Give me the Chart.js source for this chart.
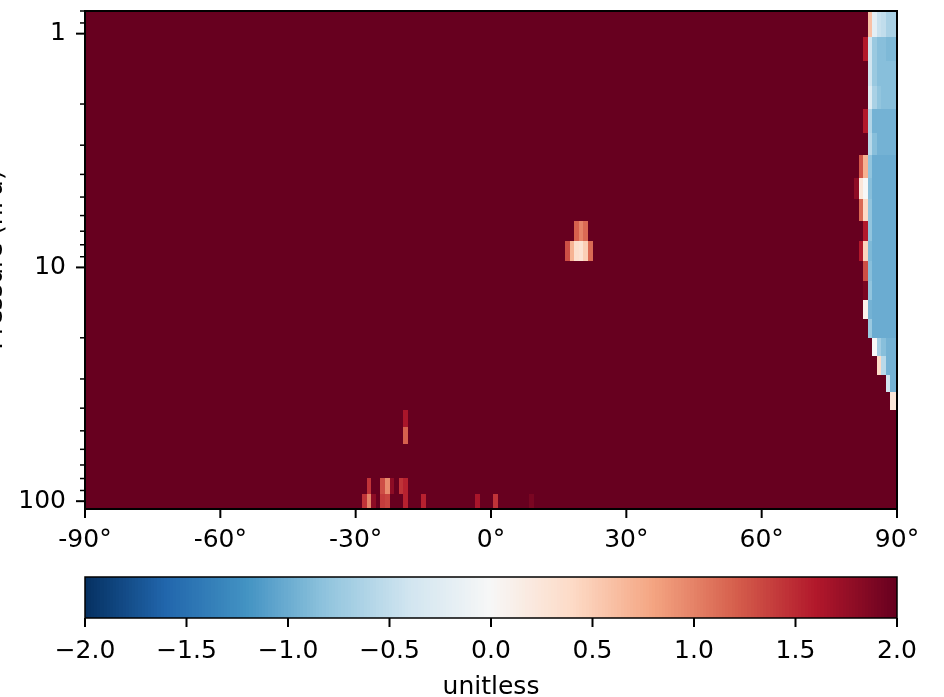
<!DOCTYPE html>
<html>
<head>
<meta charset="utf-8">
<script src="https://cdn.jsdelivr.net/npm/chart.js@4.4.0/dist/chart.umd.min.js"></script>
<style>
    body { margin: 0; background: #fff; }
    #main { position: absolute; left: 0; top: 0; width: 944px; height: 560px; }
    #cbar { position: absolute; left: 0; top: 560px; width: 944px; height: 137px; }
</style>
</head>
<body>
<div id="main"><canvas id="mainChart"></canvas></div>
<div id="cbar"><canvas id="cbarChart"></canvas></div>
<script>
// Pressure level edges (hPa), top of plot to bottom
const levelEdges = [0.80, 1.03, 1.31, 1.67, 2.10, 2.65, 3.30, 4.14, 5.09, 6.32, 7.70, 9.38, 11.4,
    13.8, 16.6, 20.0, 23.9, 28.9, 34.1, 40.8, 48.2, 57.0, 67.4, 79.7, 93.3, 108];
const latTicks = [-90, -60, -30, 0, 30, 60, 90];
const pressureTicks = [1, 10, 100];
const cbarTicks = [-2, -1.5, -1, -0.5, 0, 0.5, 1, 1.5, 2];
const latStep = 1;          // grid spacing in degrees
const fillValue = 2.0;      // most of the field sits at the top of the colour range
const cMin = -2, cMax = 2;

// Polar strip: [level index, first latitude, values eastward...]
const polarRows = [
    [0, 84, [0.6, -0.2, -0.45, -0.5, -0.65, -0.65, -0.65]],
    [1, 83, [1.6, -0.4, -0.75, -0.85, -0.85, -0.9, -0.9, -0.9]],
    [2, 84, [-0.4, -0.75, -0.85, -0.85, -0.85, -0.85, -0.85]],
    [3, 84, [-0.25, -0.65, -0.8, -0.85, -0.85, -0.85, -0.85]],
    [4, 83, [1.6, -0.6, -0.95, -0.95, -0.95, -0.95, -0.95, -0.95]],
    [5, 84, [-0.55, -0.85, -0.95, -0.95, -0.95, -0.95, -0.95]],
    [6, 82, [1.25, 0.7, -0.8, -1.0, -1.0, -1.0, -1.0, -1.0, -1.0]],
    [7, 81, [1.8, 0.25, 0.0, -0.85, -1.0, -1.0, -1.0, -1.0, -1.0, -1.0]],
    [8, 82, [1.15, 0.4, -0.8, -1.0, -1.0, -1.0, -1.0, -1.0, -1.0]],
    [9, 83, [1.6, -0.8, -1.0, -1.0, -1.0, -1.0, -1.0, -1.0]],
    [10, 82, [1.6, 0.45, -0.9, -1.0, -1.0, -1.0, -1.0, -1.0, -1.0]],
    [11, 83, [1.3, -0.85, -1.0, -1.0, -1.0, -1.0, -1.0, -1.0]],
    [12, 83, [1.9, -0.8, -1.0, -1.0, -1.0, -1.0, -1.0, -1.0]],
    [13, 83, [0.1, -0.95, -1.0, -1.0, -1.0, -1.0, -1.0, -1.0]],
    [14, 84, [-0.75, -1.0, -1.0, -1.0, -1.0, -1.0, -1.0]],
    [15, 85, [0.0, -0.7, -0.85, -0.95, -0.95, -0.95]],
    [16, 86, [0.4, -0.55, -0.95, -0.95, -0.95]],
    [17, 88, [-0.4, -0.95, -0.95]],
    [18, 89, [0.25, 0.25]]
];

// Isolated cells: [latitude, level index, value]
const midCells = [
    [19, 9, 1.2], [20, 9, 1.0], [21, 9, 1.15],
    [17, 10, 1.3], [18, 10, 0.7], [19, 10, 0.35], [20, 10, 0.3], [21, 10, 0.5], [22, 10, 1.15]
];
const lowCells = [
    [-19, 19, 1.65], [-19, 20, 1.2],
    [-27, 23, 1.45], [-24, 23, 1.3], [-23, 23, 0.95], [-22, 23, 1.8], [-20, 23, 1.45], [-19, 23, 1.55],
    [-28, 24, 1.45], [-27, 24, 1.0], [-26, 24, 1.8], [-24, 24, 1.4], [-23, 24, 1.35],
    [-19, 24, 1.55], [-15, 24, 1.55], [-3, 24, 1.65], [1, 24, 1.45], [9, 24, 1.9]
];

const FONT = 'DejaVu Sans';
const rdbu = ['#053061', '#2166ac', '#4393c3', '#92c5de', '#d1e5f0', '#f7f7f7',
    '#fddbc7', '#f4a582', '#d6604d', '#b2182b', '#67001f'];

function hexRgb(h) {
    return [parseInt(h.slice(1, 3), 16), parseInt(h.slice(3, 5), 16), parseInt(h.slice(5, 7), 16)];
}
const rdbuRgb = rdbu.map(hexRgb);

function colorFor(v) {
    const t = Math.min(1, Math.max(0, (v - cMin) / (cMax - cMin)));
    const pos = t * (rdbuRgb.length - 1);
    const i = Math.min(rdbuRgb.length - 2, Math.floor(pos));
    const f = pos - i;
    const a = rdbuRgb[i], b = rdbuRgb[i + 1];
    const c = a.map((ch, k) => Math.round(ch + (b[k] - ch) * f));
    return `rgb(${c[0]},${c[1]},${c[2]})`;
}

// flatten the polar strip into cells
const cells = [];
polarRows.forEach(([lev, lat0, vals]) => {
    vals.forEach((v, k) => cells.push([lat0 + k * latStep, lev, v]));
});
midCells.forEach(c => cells.push(c));
lowCells.forEach(c => cells.push(c));

// log minor tick positions for the pressure axis
const yTickValues = [];
[0.1, 1, 10].forEach(d => {
    for (let k = 1; k <= 9; k++) {
        const v = Math.round(k * d * 100) / 100;
        if (v >= levelEdges[0] && v <= levelEdges[levelEdges.length - 1]) yTickValues.push(v);
    }
});
yTickValues.push(100);

const heatmapPlugin = {
    id: 'heatmap',
    beforeDatasetsDraw(chart) {
        const { ctx, chartArea: a, scales: { x, y } } = chart;
        ctx.save();
        ctx.beginPath();
        ctx.rect(a.left, a.top, a.right - a.left, a.bottom - a.top);
        ctx.clip();
        // base field, row by row
        for (let r = 0; r < levelEdges.length - 1; r++) {
            const y0 = Math.round(y.getPixelForValue(levelEdges[r]));
            const y1 = Math.round(y.getPixelForValue(levelEdges[r + 1]));
            ctx.fillStyle = colorFor(fillValue);
            ctx.fillRect(a.left, y0, a.right - a.left, y1 - y0);
        }
        cells.forEach(([lat, r, v]) => {
            const x0 = Math.round(x.getPixelForValue(lat - latStep / 2));
            const x1 = Math.round(x.getPixelForValue(lat + latStep / 2));
            const y0 = Math.round(y.getPixelForValue(levelEdges[r]));
            const y1 = Math.round(y.getPixelForValue(levelEdges[r + 1]));
            ctx.fillStyle = colorFor(v);
            ctx.fillRect(x0, y0, x1 - x0, y1 - y0);
        });
        ctx.restore();
    },
    afterDraw(chart) {
        const { ctx, chartArea: a, scales: { x, y } } = chart;
        ctx.save();
        ctx.strokeStyle = '#000';
        // ticks
        ctx.lineWidth = 2;
        latTicks.forEach(v => {
            const px = x.getPixelForValue(v);
            ctx.beginPath(); ctx.moveTo(px, a.bottom); ctx.lineTo(px, a.bottom + 9); ctx.stroke();
        });
        yTickValues.forEach(v => {
            const py = y.getPixelForValue(v);
            const major = pressureTicks.includes(v);
            ctx.lineWidth = major ? 2 : 1.5;
            ctx.beginPath(); ctx.moveTo(a.left, py); ctx.lineTo(a.left - (major ? 9 : 5), py); ctx.stroke();
        });
        // frame
        ctx.lineWidth = 2;
        ctx.strokeRect(a.left, a.top, a.right - a.left, a.bottom - a.top);
        // y axis title
        ctx.fillStyle = '#000';
        ctx.font = `25px "${FONT}"`;
        ctx.textAlign = 'center';
        ctx.textBaseline = 'alphabetic';
        ctx.translate(2, (a.top + a.bottom) / 2);
        ctx.rotate(-Math.PI / 2);
        ctx.fillText('Pressure (hPa)', 0, 0);
        ctx.restore();
    }
};

new Chart(document.getElementById('mainChart'), {
    type: 'scatter',
    data: { datasets: [{ data: [] }] },
    options: {
        responsive: true,
        maintainAspectRatio: false,
        animation: false,
        layout: { padding: { left: 0, right: 47, top: 11, bottom: 0 } },
        plugins: { legend: { display: false }, tooltip: { enabled: false } },
        scales: {
            x: {
                type: 'linear', min: -90, max: 90,
                afterBuildTicks: s => { s.ticks = latTicks.map(v => ({ value: v })); },
                afterFit: s => { s.height = 51; s.paddingLeft = 0; s.paddingRight = 0; },
                grid: { display: false, drawTicks: false },
                border: { display: false },
                ticks: {
                    color: '#000', font: { family: FONT, size: 25 }, padding: 16,
                    maxRotation: 0, autoSkip: false,
                    callback: v => v + '°'
                }
            },
            y: {
                type: 'logarithmic', reverse: true,
                min: levelEdges[0], max: levelEdges[levelEdges.length - 1],
                afterBuildTicks: s => { s.ticks = yTickValues.map(v => ({ value: v })); },
                afterFit: s => { s.width = 85; s.paddingTop = 0; s.paddingBottom = 0; },
                grid: { display: false, drawTicks: false },
                border: { display: false },
                ticks: {
                    color: '#000', font: { family: FONT, size: 25 }, padding: 19,
                    autoSkip: false,
                    callback: v => pressureTicks.includes(v) ? String(v) : ''
                }
            }
        }
    },
    plugins: [heatmapPlugin]
});

const colorbarPlugin = {
    id: 'colorbar',
    beforeDatasetsDraw(chart) {
        const { ctx, chartArea: a, scales: { x } } = chart;
        const steps = 256;
        ctx.save();
        for (let i = 0; i < steps; i++) {
            const v0 = cMin + (cMax - cMin) * i / steps;
            const v1 = cMin + (cMax - cMin) * (i + 1) / steps;
            const x0 = x.getPixelForValue(v0), x1 = x.getPixelForValue(v1);
            ctx.fillStyle = colorFor((v0 + v1) / 2);
            ctx.fillRect(Math.floor(x0), a.top, Math.ceil(x1) - Math.floor(x0), a.bottom - a.top);
        }
        ctx.restore();
    },
    afterDraw(chart) {
        const { ctx, chartArea: a, scales: { x } } = chart;
        ctx.save();
        ctx.strokeStyle = '#000';
        ctx.lineWidth = 2;
        cbarTicks.forEach(v => {
            const px = x.getPixelForValue(v);
            ctx.beginPath(); ctx.moveTo(px, a.bottom); ctx.lineTo(px, a.bottom + 9); ctx.stroke();
        });
        ctx.lineWidth = 1.5;
        ctx.strokeRect(a.left, a.top, a.right - a.left, a.bottom - a.top);
        ctx.fillStyle = '#000';
        ctx.font = `25px "${FONT}"`;
        ctx.textAlign = 'center';
        ctx.textBaseline = 'alphabetic';
        ctx.fillText('unitless', (a.left + a.right) / 2, 134);
        ctx.restore();
    }
};

new Chart(document.getElementById('cbarChart'), {
    type: 'scatter',
    data: { datasets: [{ data: [] }] },
    options: {
        responsive: true,
        maintainAspectRatio: false,
        animation: false,
        layout: { padding: { left: 85, right: 47, top: 17, bottom: 0 } },
        plugins: { legend: { display: false }, tooltip: { enabled: false } },
        scales: {
            x: {
                type: 'linear', min: cMin, max: cMax,
                afterBuildTicks: s => { s.ticks = cbarTicks.map(v => ({ value: v })); },
                afterFit: s => { s.height = 79; s.paddingLeft = 0; s.paddingRight = 0; },
                grid: { display: false, drawTicks: false },
                border: { display: false },
                ticks: {
                    color: '#000', font: { family: FONT, size: 25 }, padding: 18,
                    maxRotation: 0, autoSkip: false,
                    callback: v => (v < 0 ? '\u2212' : '') + Math.abs(v).toFixed(1)
                }
            },
            y: { display: false, min: 0, max: 1 }
        }
    },
    plugins: [colorbarPlugin]
});
</script>
</body>
</html>
